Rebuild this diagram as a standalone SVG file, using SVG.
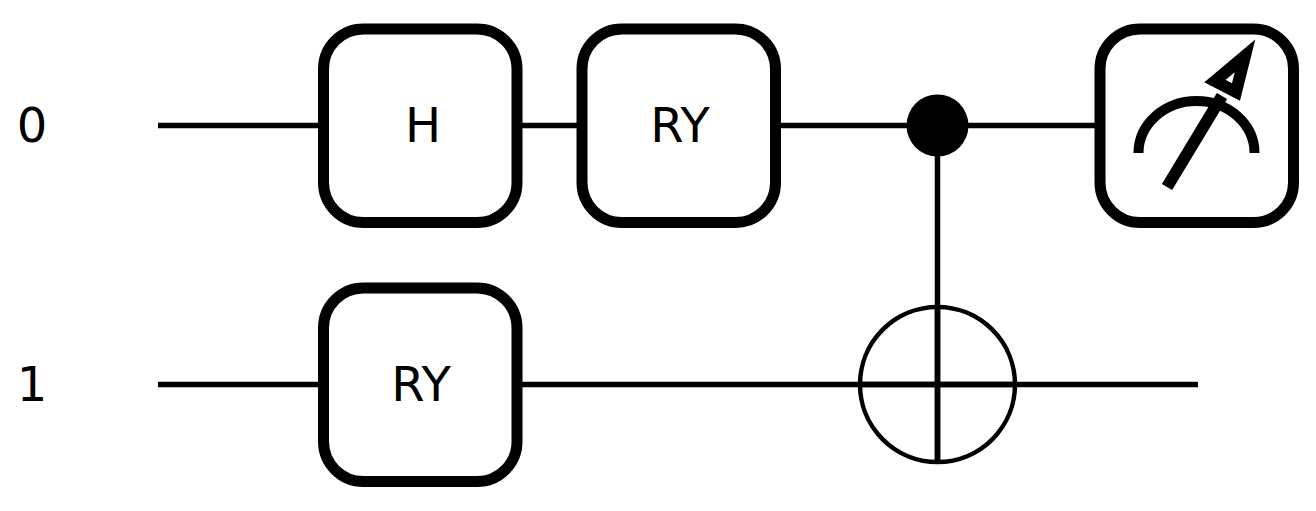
<svg xmlns="http://www.w3.org/2000/svg" width="1316" height="511" viewBox="0 0 1316 511">
<style>
.w{stroke:#000;stroke-width:5.500;fill:none}
.b{stroke:#000;stroke-width:11;fill:#fff}
.t{font-family:"DejaVu Sans",sans-serif;font-size:48px;fill:#000;text-anchor:middle}
</style>
<rect width="1316" height="511" fill="#fff"/>
<g id="connectors">
<path class="w" d="M158 125.500H1097M158 384.500H1198M937.500 125V463"/>
</g>
<text class="t" x="32" y="142">0</text>
<text class="t" x="32" y="401">1</text>
<g id="gate-h"><rect class="b" x="323.500" y="29" width="193.500" height="193.500" rx="40"/><text class="t" x="423" y="142">H</text></g>
<g id="gate-ry0"><rect class="b" x="582" y="29" width="193.500" height="193.500" rx="40"/><text class="t" x="680" y="142">RY</text></g>
<g id="gate-ry1"><rect class="b" x="323.500" y="288" width="193.500" height="193.500" rx="40"/><text class="t" x="421" y="401">RY</text></g>
<g id="control"><circle cx="937.500" cy="125.500" r="31" fill="#000"/></g>
<g id="target"><circle cx="937.500" cy="384.500" r="77.500" fill="none" stroke="#000" stroke-width="4.500"/><path class="w" d="M859 384.500H1016M937.500 307V463"/></g>
<g id="measure">
<rect class="b" x="1100" y="29" width="193.500" height="193.500" rx="40"/>
<path d="M1138.500 153A58 52 0 0 1 1254.500 153" fill="none" stroke="#000" stroke-width="10"/>
<path d="M1167 187L1222 96" fill="none" stroke="#000" stroke-width="12"/>
<path d="M1215 81L1245 56L1236 92Z" fill="#fff" stroke="#000" stroke-width="12"/>
</g>
</svg>
